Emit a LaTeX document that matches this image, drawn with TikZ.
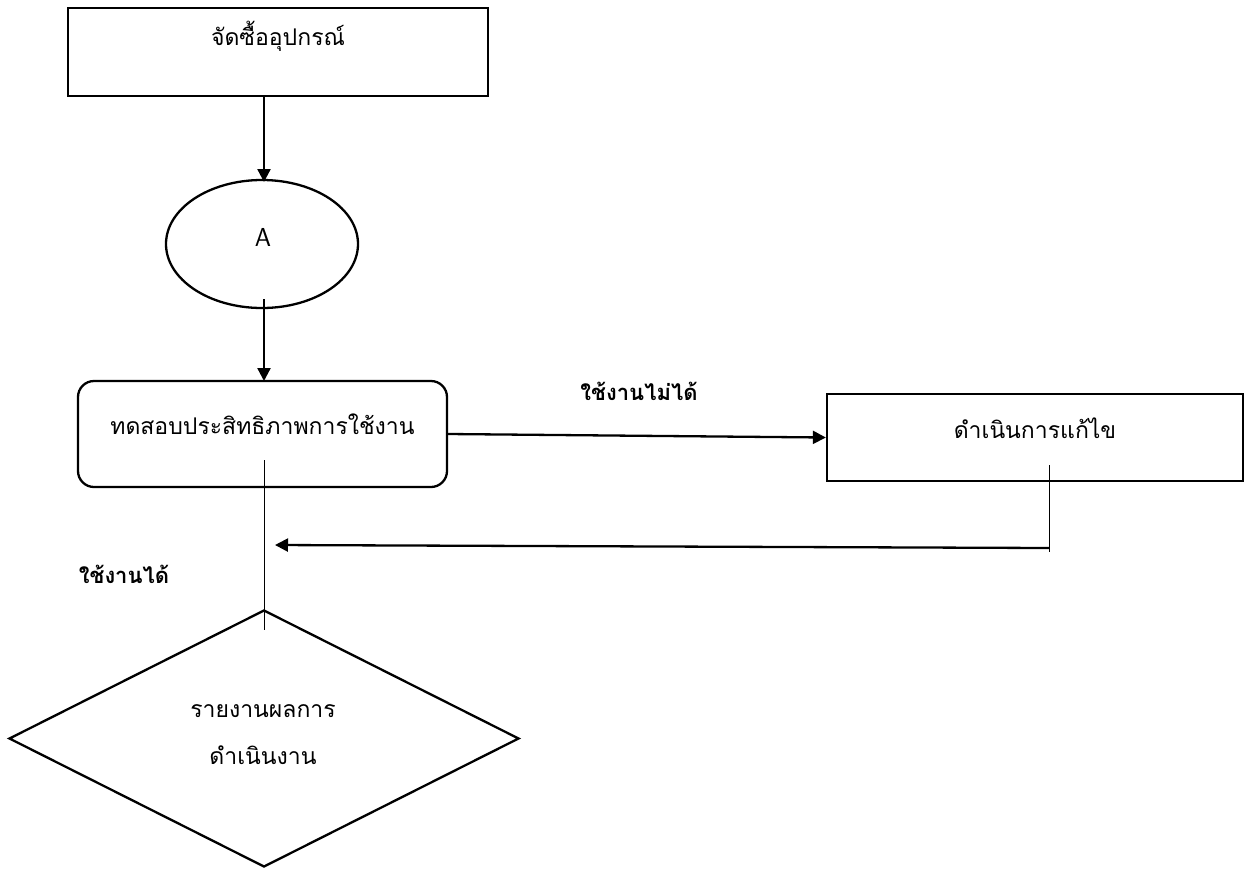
\documentclass[tikz,border=0pt]{standalone}
\usepackage{fontspec}
\newfontfamily\thaifont[Script=Thai]{Loma}
\usetikzlibrary{shapes.geometric,arrows.meta}
\tikzset{
  box/.style={draw,line width=2.3pt,inner sep=0pt},
  txt/.style={font=\thaifont\fontsize{23}{26}\selectfont,inner sep=0pt},
  btxt/.style={font=\thaifont\bfseries\fontsize{22}{26}\selectfont,inner sep=0pt},
  arr/.style={line width=2.3pt,-{Triangle[length=13pt,width=13pt]}},
  thin/.style={line width=1pt}
}
\begin{document}
\begin{tikzpicture}[x=1pt,y=-1pt]
\useasboundingbox (0,0) rectangle (1250,871);
% shapes
\node[box,rectangle,minimum width=420pt,minimum height=88pt] (top) at (278,52) {};
\node[box,ellipse,minimum width=192pt,minimum height=128pt] (ell) at (262,244) {};
\node[box,rectangle,rounded corners=16pt,minimum width=369pt,minimum height=106pt] (test) at (262.5,434) {};
\node[box,rectangle,minimum width=416pt,minimum height=87pt] (fix) at (1035,437.5) {};
\node[draw,line width=2.3pt,diamond,inner sep=0pt,minimum width=510pt,minimum height=257pt] (rep) at (264,738.5) {};
% texts
\node[txt] (ttop) at (278,36) {จัดซื้ออุปกรณ์};
\node[font=\sffamily\fontsize{26}{28}\selectfont,inner sep=0pt] (tA) at (263,237) {A};
\node[txt] (ttest) at (262.5,424) {ทดสอบประสิทธิภาพการใช้งาน};
\node[txt] (tfix) at (1035,428) {ดำเนินการแก้ไข};
\node[txt] (trep1) at (263,711) {รายงานผลการ};
\node[txt] (trep2) at (263,755) {ดำเนินงาน};
\node[btxt] (lno) at (639,391) {ใช้งานไม่ได้};
\node[btxt] (lyes) at (124,574) {ใช้งานได้};
% connectors
\draw[arr] (top.south -| 264,0) -- (264,182);
\draw[arr] ([yshift=10pt]ell.south -| 264,0) -- (264,381);
\draw[arr] (test.east) -- (fix.west);
\coordinate (f0) at (1049,465);
\coordinate (f1) at (1049,552);
\draw[thin] (f0) -- (f1);
\coordinate (r0) at (1049,548);
\coordinate (r1) at (275,545);
\draw[arr] (r0) -- (r1);
\coordinate (d0) at (264,460);
\coordinate (d1) at (264,630);
\draw[thin] (d0) -- (d1);
\end{tikzpicture}
\end{document}
